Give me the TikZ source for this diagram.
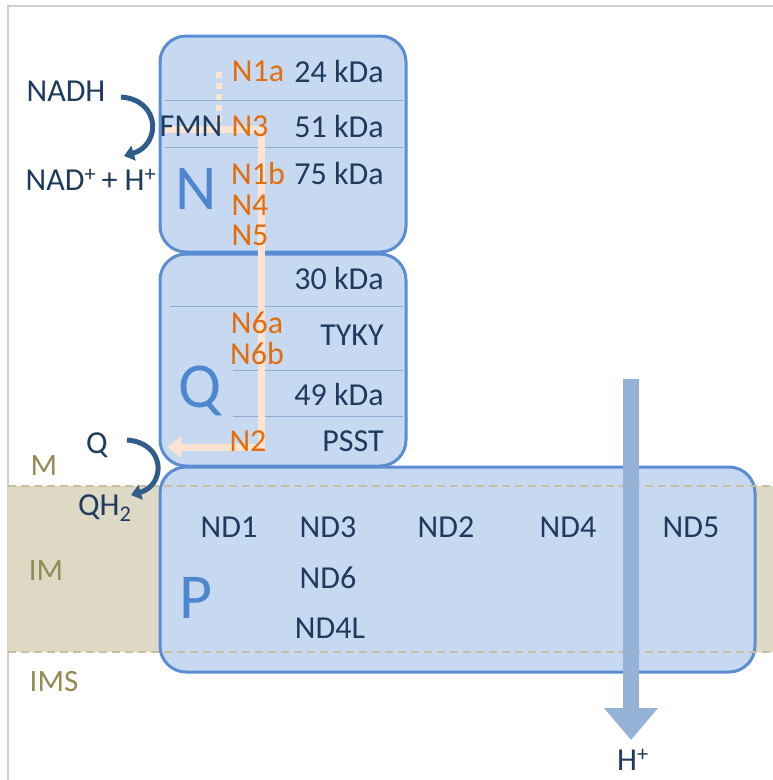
\documentclass[tikz,border=0pt]{standalone}
\usepackage{fontspec}
\setmainfont{Carlito}
\usetikzlibrary{arrows.meta}
\definecolor{boxfill}{HTML}{C6D9F1}
\definecolor{boxline}{HTML}{5B8DD3}
\definecolor{bigblue}{HTML}{4F86D0}
\definecolor{darktext}{HTML}{1F3A5F}
\definecolor{fesorange}{HTML}{E46C0A}
\definecolor{peachc}{HTML}{FCE4D0}
\definecolor{bandc}{HTML}{DDD9C4}
\definecolor{bandline}{HTML}{C6C0A0}
\definecolor{olivec}{HTML}{948A54}
\definecolor{hplusc}{HTML}{95B3D7}
\definecolor{divc}{HTML}{8EAAD2}
\definecolor{curvc}{HTML}{2F5C8A}
\definecolor{framec}{HTML}{D0D0D0}
\begin{document}
\begin{tikzpicture}[x=1pt,y=-1pt,
  box/.style={draw=boxline, fill=boxfill, line width=3pt, rounded corners=26pt, inner sep=0pt},
  lbl/.style={font=\fontsize{32}{34}\selectfont, text=darktext, inner sep=0pt, text depth=0pt},
  fes/.style={lbl, text=fesorange},
  big/.style={font=\fontsize{64}{64}\selectfont, text=bigblue, inner sep=0pt, text depth=0pt},
  mem/.style={font=\fontsize{31}{33}\selectfont, text=olivec, inner sep=0pt, text depth=0pt},
  divl/.style={draw=divc, line width=1pt},
  curv/.style={draw=curvc, line width=5pt, -{Triangle[width=15pt,length=10pt]}},
  peach/.style={draw=peachc, line width=7pt},
  memdash/.style={draw=bandline, line width=1.3pt, dash pattern=on 8pt off 5pt},
  hplus/.style={draw=hplusc, line width=16pt, -{Triangle[width=52pt,length=32pt]}}
]
\useasboundingbox (0,0) rectangle (773,780);
% frame
\draw[framec, line width=1.5pt] (8,780) -- (8,6) -- (773,6);
% membrane band
\fill[bandc] (8,486) rectangle (773,652);
% boxes
\node[box, minimum width=246pt, minimum height=216pt] (Nbox) at (283,144) {};
\node[box, minimum width=246pt, minimum height=212pt] (Qbox) at (283,360) {};
\node[box, minimum width=595pt, minimum height=205pt] (Pbox) at (457.5,569.5) {};
% dividing lines
\draw[divl] (165,100) -- (403,100);
\draw[divl] (165,147) -- (403,147);
\draw[divl] (170,306) -- (403,306);
\draw[divl] (233,370) -- (403,370);
\draw[divl] (233,416) -- (403,416);
% electron path
\coordinate (p0) at (219,72);
\coordinate (p1) at (219,124);
\coordinate (p2) at (165,129);
\coordinate (p3) at (261,129);
\coordinate (p4) at (261,447);
\coordinate (p5) at (167,447);
\draw[peach, line width=6pt, dash pattern=on 6pt off 5pt] (p0) -- (p1);
\draw[peach, -{Triangle[width=20pt,length=14pt]}] (p2) -- (p3) -- (p4) -- (p5);
% membrane dashed lines
\coordinate (m1a) at (8,486);
\coordinate (m1b) at (773,486);
\coordinate (m2a) at (8,652);
\coordinate (m2b) at (773,652);
\draw[memdash] (m1a) -- (m1b);
\draw[memdash] (m2a) -- (m2b);
% big letters
\node[big] (bigN) at (196,189) {N};
\node[big] (bigQ) at (200,387) {Q};
\node[big] (bigP) at (196,598) {P};
% N module texts
\node[fes] (n1a) at (258,71) {N1a};
\node[lbl] (k24) at (339,71) {24 kDa};
\node[lbl] (fmn) at (191,126) {FMN};
\node[fes] (n3) at (250,126) {N3};
\node[lbl] (k51) at (339,126) {51 kDa};
\node[fes] (n1b) at (258,173) {N1b};
\node[lbl] (k75) at (339,173) {75 kDa};
\node[fes] (n4) at (250,205) {N4};
\node[fes] (n5) at (250,235) {N5};
% Q module texts
\node[lbl] (k30) at (339,278) {30 kDa};
\node[fes] (n6a) at (257,323) {N6a};
\node[fes] (n6b) at (257,353) {N6b};
\node[lbl] (tyky) at (352,335) {TYKY};
\node[lbl] (k49) at (339,394) {49 kDa};
\node[fes] (n2) at (248,441) {N2};
\node[lbl] (psst) at (353,441) {PSST};
% P module texts
\node[lbl] (nd1) at (229,527) {ND1};
\node[lbl] (nd3) at (328,527) {ND3};
\node[lbl] (nd2) at (446,527) {ND2};
\node[lbl] (nd4) at (568,527) {ND4};
\node[lbl] (nd5) at (691,527) {ND5};
\node[lbl] (nd6) at (328,578) {ND6};
\node[lbl] (nd4l) at (330,628) {ND4L};
% left labels
\node[lbl] (nadh) at (66,91) {NADH};
\node[lbl] (nad) at (91,180) {NAD\textsuperscript{+}\,+ H\textsuperscript{+}};
\node[lbl] (qin) at (97,443) {Q};
\node[lbl, anchor=west] (qh2) at (78,505) {QH\textsubscript{2}};
\node[mem] (lm) at (44,466) {M};
\node[mem] (lim) at (46,571) {IM};
\node[mem] (lims) at (54,681) {IMS};
% curved arrows
\coordinate (c1a) at (121,97);
\coordinate (c1b) at (124,156);
\draw[curv] (c1a) .. controls (161,100) and (161,145) .. (c1b);
\coordinate (c2a) at (127,440);
\coordinate (c2b) at (131,495);
\draw[curv] (c2a) .. controls (166,443) and (166,485) .. (c2b);
% proton arrow
\coordinate (h0) at (631,379);
\coordinate (h1) at (631,740);
\draw[hplus] (h0) -- (h1);
\node[lbl] (hp) at (633,760) {H\textsuperscript{+}};
\end{tikzpicture}
\end{document}
